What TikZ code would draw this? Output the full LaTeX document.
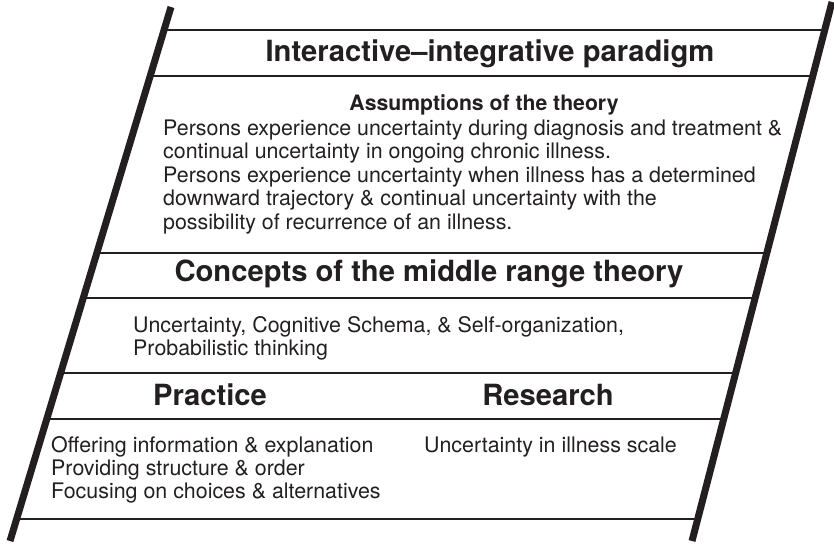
\documentclass[tikz,border=0pt]{standalone}
\usepackage{fontspec}
\setmainfont{TeX Gyre Heros}
\definecolor{ink}{HTML}{231F20}

\begin{document}
\begin{tikzpicture}[x=1pt, y=-1pt,
  head/.style={anchor=base, inner sep=0, text=ink, font=\fontsize{29.2}{32}\selectfont\bfseries},
  subhead/.style={anchor=base, inner sep=0, text=ink, font=\fontsize{21.2}{23.5}\selectfont\bfseries},
  txt/.style={anchor=base west, inner sep=0, text=ink, font=\fontsize{21.4}{23.5}\selectfont}]
\useasboundingbox (0,0) rectangle (834,543);

\coordinate (LT) at (171,7);
\coordinate (LB) at (10,541);
\coordinate (RT) at (832,2);
\coordinate (RB) at (692,541);

% rules between the sections
\begin{scope}
\clip (LT) -- (RT) -- (RB) -- (LB) -- cycle;
\foreach \y in {30,76,253,298,373,419,519}
  \draw[ink, line width=2] (0,\y) -- (834,\y);
\end{scope}

\draw[ink, line width=7] (LT) -- (LB);
\draw[ink, line width=7] (RT) -- (RB);

\node[head] (P) at (490,61) {Interactive–integrative paradigm};

\node[subhead] (A) at (484,110) {Assumptions of the theory};
\node[txt] (A1) at (163,135)   {Persons experience uncertainty during diagnosis and treatment \&};
\node[txt] (A2) at (163,158.5) {continual uncertainty in ongoing chronic illness.};
\node[txt] (A3) at (163,182)   {Persons experience uncertainty when illness has a determined};
\node[txt] (A4) at (163,205.5) {downward trajectory \& continual uncertainty with the};
\node[txt] (A5) at (163,229)   {possibility of recurrence of an illness.};

\node[head] (C) at (429,281) {Concepts of the middle range theory};
\node[txt] (C1) at (133,332) {Uncertainty, Cognitive Schema, \& Self-organization,};
\node[txt] (C2) at (133,355) {Probabilistic thinking};

\node[head] (PR) at (210,405) {Practice};
\node[head] (RE) at (548,405) {Research};

\node[txt] (PR1) at (51,452) {Offering information \& explanation};
\node[txt] (PR2) at (51,475) {Providing structure \& order};
\node[txt] (PR3) at (51,498) {Focusing on choices \& alternatives};
\node[txt] (RE1) at (424,452) {Uncertainty in illness scale};
\end{tikzpicture}
\end{document}
